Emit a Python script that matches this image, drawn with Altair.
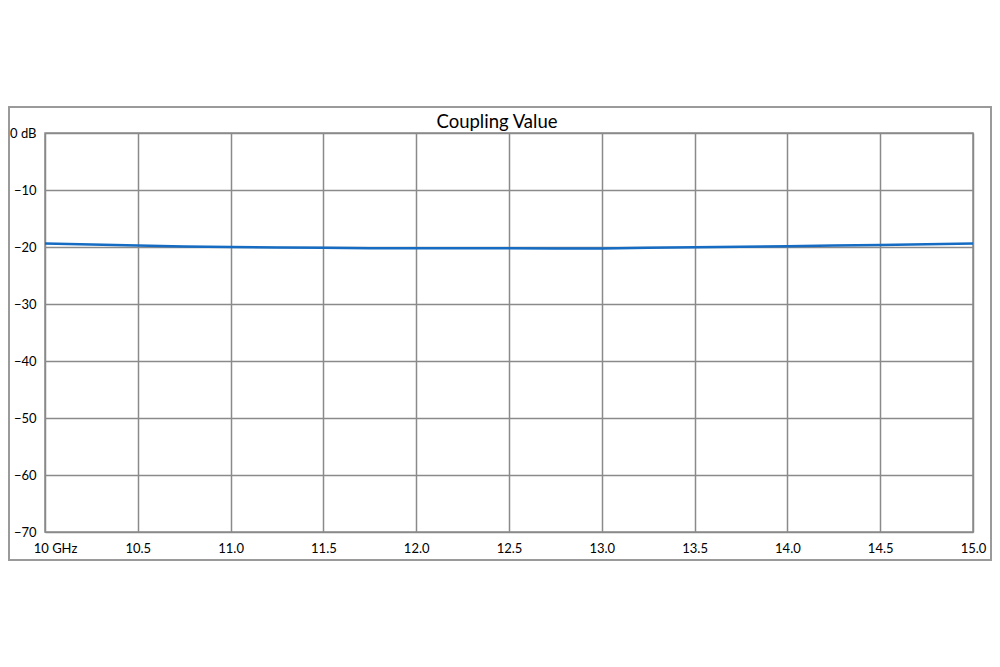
import altair as alt
import pandas as pd

freq_ghz = [10.0, 10.25, 10.5, 10.75, 11.0, 11.25, 11.5, 11.75, 12.0, 12.25, 12.5,
            12.75, 13.0, 13.25, 13.5, 13.75, 14.0, 14.25, 14.5, 14.75, 15.0]
coupling_db = [-19.4, -19.55, -19.75, -19.9, -20.0, -20.1, -20.15, -20.2, -20.2, -20.2, -20.2,
               -20.25, -20.25, -20.15, -20.05, -19.95, -19.85, -19.75, -19.65, -19.5, -19.4]
x_ticks = [10.0, 10.5, 11.0, 11.5, 12.0, 12.5, 13.0, 13.5, 14.0, 14.5, 15.0]
y_ticks = [0, -10, -20, -30, -40, -50, -60, -70]

df = pd.DataFrame({"f": freq_ghz, "c": coupling_db})

FONT = "Lato"
GRID = "#8a8a8a"

x_enc = alt.X(
    "f:Q",
    scale=alt.Scale(domain=[10, 15], nice=False, zero=False),
    axis=alt.Axis(
        values=x_ticks, title=None, grid=True, gridColor=GRID, gridWidth=1.5,
        domain=False, ticks=False, labelPadding=10, labelFlush=False,
        labelFont=FONT, labelFontSize=13, labelColor="#000",
        labelExpr="datum.value == 10 ? '10 GHz' : format(datum.value, '.1f')",
        labelOffset={"condition": {"test": "datum.value == 10", "value": 10}, "value": 0},
    ),
)
y_enc = alt.Y(
    "c:Q",
    scale=alt.Scale(domain=[-70, 0], nice=False),
    axis=alt.Axis(
        values=y_ticks, title=None, grid=True, gridColor=GRID, gridWidth=1.5,
        domain=False, ticks=False, labelPadding=9,
        labelFont=FONT, labelFontSize=13, labelColor="#000",
        labelExpr="datum.value == 0 ? '0 dB' : format(datum.value, 'd')",
    ),
)

line = alt.Chart(df).mark_line(color="#156cc2", strokeWidth=2.5).encode(x=x_enc, y=y_enc)

frame = alt.Chart(df).mark_rect(filled=False, stroke="#9a9a9a", strokeWidth=2).encode(
    x=alt.value(-36), x2=alt.value(946), y=alt.value(-26), y2=alt.value(427)
)

chart = alt.layer(frame, line).properties(
    width=928,
    height=399,
    autosize=alt.AutoSizeParams(type="none"),
    padding={"left": 37, "top": 125, "right": 19, "bottom": 30},
    title=alt.TitleParams(
        "Coupling Value", font=FONT, fontSize=18.5, fontWeight="normal", color="#000",
        anchor="middle", dx=-12, dy=29, offset=4,
    ),
).configure_view(stroke=GRID, strokeWidth=1.5)

chart.save("out.html", embed_options={"renderer": "svg", "actions": False})
